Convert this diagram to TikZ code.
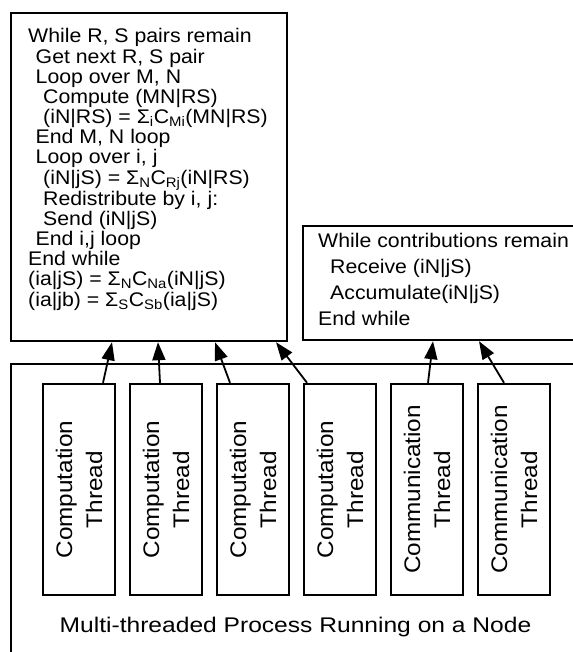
\documentclass[tikz,border=0pt]{standalone}
\usepackage{fontspec}
\setmainfont{Liberation Sans}[FakeStretch=1.08]
\newfontfamily\labfont{Liberation Sans}[FakeStretch=1.16]
\usetikzlibrary{arrows.meta}
\newcommand\indA{\hspace*{7.5pt}}
\newcommand\indB{\hspace*{15pt}}
\begin{document}
\begin{tikzpicture}[x=1pt,y=-1pt,
  codebox/.style={draw, line width=2.2pt, rectangle, inner sep=0pt, anchor=north west},
  thread/.style={draw, line width=2.4pt, rectangle, rotate=90, minimum width=211pt,
    minimum height=72pt, inner sep=0pt, align=center, font=\fontsize{22.5}{30}\selectfont},
  codetext/.style={anchor=north west, inner sep=0pt, align=left,
    font=\fontsize{19.7}{20.15}\selectfont},
  arr/.style={line width=1.8pt, -{Triangle[length=18pt,width=13pt]}},
  procbox/.style={draw, line width=1.8pt, inner sep=0pt, anchor=north west}
]
\useasboundingbox (0,0) rectangle (572,652);

\node[codebox, minimum width=276pt, minimum height=328pt] (code) at (10,12) {};
\node[codetext] (codetxt) at (28,28.5) {While R, S pairs remain\\
\indA Get next R, S pair\\
\indA Loop over M, N\\
\indB Compute (MN|RS)\\
\indB (iN|RS) = Σ\textsubscript{i}C\textsubscript{Mi}(MN|RS)\\
\indA End M, N loop\\
\indA Loop over i, j\\
\indB (iN|jS) = Σ\textsubscript{N}C\textsubscript{Rj}(iN|RS)\\
\indB Redistribute by i, j:\\
\indB Send (iN|jS)\\
\indA End i,j loop\\
End while\\
(ia|jS) = Σ\textsubscript{N}C\textsubscript{Na}(iN|jS)\\
(ia|jb) = Σ\textsubscript{S}C\textsubscript{Sb}(ia|jS)};

\node[codebox, minimum width=300pt, minimum height=114pt] (recv) at (301.7,225) {};
\node[codetext, font=\fontsize{19.7}{26}\selectfont] (recvtxt) at (318,233) {While contributions remain\\
\hspace*{12pt}Receive (iN|jS)\\
\hspace*{12pt}Accumulate(iN|jS)\\
End while};

\node[procbox, minimum width=620pt, minimum height=330pt] (proc) at (10,363) {};
\node[font=\labfont\fontsize{21.2}{24}\selectfont, anchor=base, inner sep=0pt] (proclab)
  at (295.5,632.7) {Multi-threaded Process Running on a Node};

\node[thread] (t1) at (79,489.5) {Computation\\Thread};
\node[thread] (t2) at (166,489.5) {Computation\\Thread};
\node[thread] (t3) at (253,489.5) {Computation\\Thread};
\node[thread] (t4) at (340,489.5) {Computation\\Thread};
\node[thread] (t5) at (427,489.5) {Communication\\Thread};
\node[thread] (t6) at (514,489.5) {Communication\\Thread};

\draw[arr] ([xshift=24pt]t1.east) -- ([xshift=102pt]code.south west);
\draw[arr] ([xshift=-6pt]t2.east) -- ([xshift=148pt]code.south west);
\draw[arr] ([xshift=-23pt]t3.east) -- ([xshift=205pt]code.south west);
\draw[arr] ([xshift=-33pt]t4.east) -- ([xshift=266pt]code.south west);
\draw[arr] ([xshift=1pt]t5.east) -- ([xshift=131.3pt]recv.south west);
\draw[arr] ([xshift=-10pt]t6.east) -- ([xshift=177.3pt]recv.south west);
\end{tikzpicture}
\end{document}
